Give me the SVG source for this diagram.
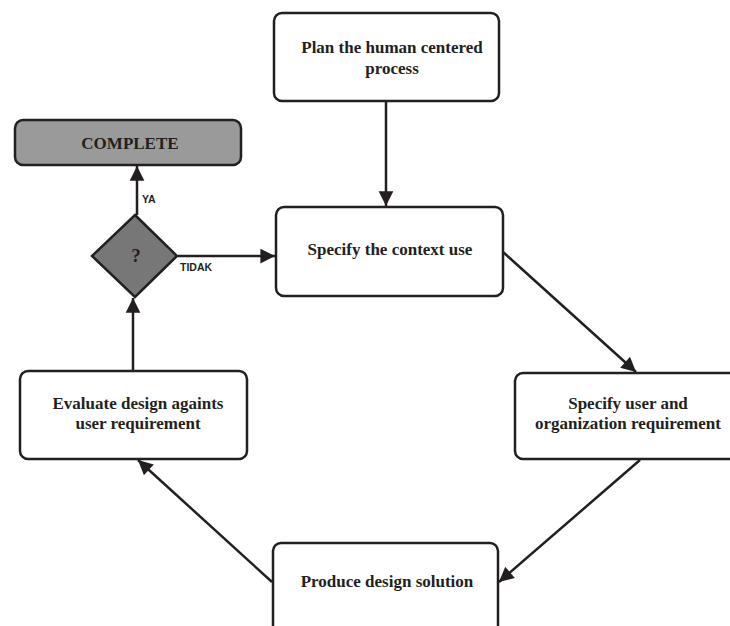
<svg xmlns="http://www.w3.org/2000/svg" width="730" height="626" viewBox="0 0 730 626">
<style>
.box{fill:#fff;stroke:#231f20;stroke-width:2.5}
.t{font-family:"Liberation Serif",serif;font-weight:bold;font-size:17px;fill:#231f20;text-anchor:middle}
.lbl{font-family:"Liberation Sans",sans-serif;font-weight:bold;font-size:10.5px;fill:#231f20}
.c{stroke:#231f20;stroke-width:2.5;fill:none;marker-end:url(#ah)}
</style>
<defs>
<marker id="ah" viewBox="0 0 10 10" refX="10" refY="5" markerWidth="7" markerHeight="7" markerUnits="userSpaceOnUse" orient="auto" overflow="visible">
<path d="M0,0 L10,5 L0,10 z" fill="#231f20" transform="scale(2.1) translate(-5.2,-2.6)"/>
</marker>
</defs>
<rect width="730" height="626" fill="#fff"/>
<g id="connectors">
<line class="c" x1="386" y1="101" x2="386" y2="206"/>
<line class="c" x1="137" y1="215" x2="137" y2="166"/>
<line class="c" x1="178" y1="256" x2="275" y2="256"/>
<line class="c" x1="133" y1="371" x2="133" y2="298"/>
<line class="c" x1="503" y1="252" x2="636" y2="372"/>
<line class="c" x1="640" y1="460" x2="499" y2="582"/>
<line class="c" x1="272" y1="582" x2="138" y2="460"/>
</g>
<g id="n-plan">
<rect class="box" x="274" y="13" width="225" height="88" rx="8"/>
<text class="t" x="392" y="53">Plan the human centered</text>
<text class="t" x="392" y="74">process</text>
</g>
<g id="n-context">
<rect class="box" x="276" y="207" width="227" height="89" rx="8"/>
<text class="t" x="390" y="255">Specify the context use</text>
</g>
<g id="n-complete">
<rect x="15" y="120" width="226" height="45" rx="8" fill="#9a9a9a" stroke="#231f20" stroke-width="2.5"/>
<text class="t" x="130" y="149">COMPLETE</text>
</g>
<g id="n-decision">
<polygon points="135,215 177,256 135,297 92,256" fill="#777" stroke="#231f20" stroke-width="2.5"/>
<text class="t" x="136" y="262" style="font-size:19px">?</text>
</g>
<text class="lbl" x="142" y="203">YA</text>
<text class="lbl" x="180" y="271">TIDAK</text>
<g id="n-evaluate">
<rect class="box" x="20" y="371" width="227" height="88" rx="8"/>
<text class="t" x="138" y="409">Evaluate design againts</text>
<text class="t" x="138" y="429">user requirement</text>
</g>
<g id="n-user">
<rect class="box" x="515" y="373" width="230" height="86" rx="8"/>
<text class="t" x="628" y="409">Specify user and</text>
<text class="t" x="628" y="429">organization requirement</text>
</g>
<g id="n-produce">
<rect class="box" x="273" y="543" width="225" height="100" rx="8"/>
<text class="t" x="387" y="587">Produce design solution</text>
</g>
</svg>
